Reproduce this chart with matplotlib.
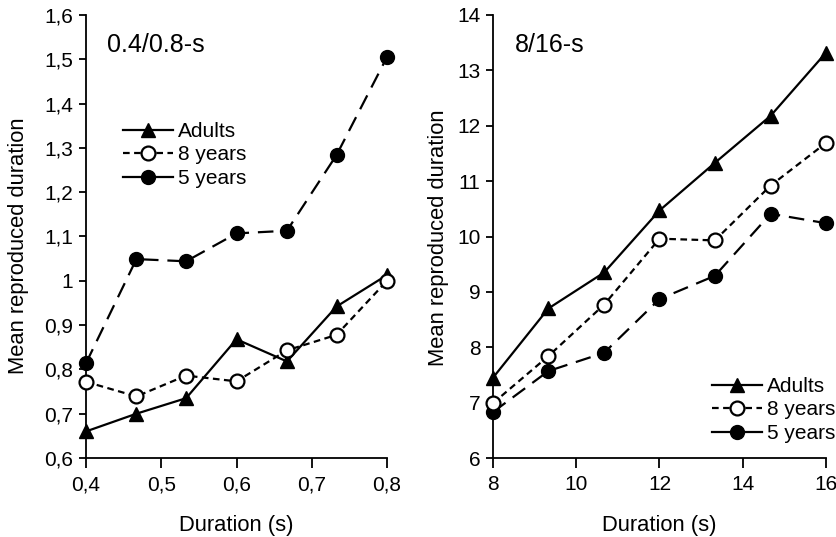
import matplotlib
matplotlib.use("Agg")
import matplotlib.pyplot as plt
from matplotlib.lines import Line2D
from matplotlib.ticker import FuncFormatter

plt.rcParams['font.family'] = ['Liberation Sans', 'DejaVu Sans']

# Left panel (0.4/0.8-s)
x_short = [0.4, 0.467, 0.533, 0.6, 0.667, 0.733, 0.8]
adults_short = [0.66, 0.70, 0.735, 0.868, 0.818, 0.942, 1.013]
y8_short = [0.772, 0.739, 0.786, 0.773, 0.843, 0.878, 1.0]
y5_short = [0.814, 1.049, 1.044, 1.107, 1.113, 1.284, 1.505]

# Right panel (8/16-s)
x_long = [8, 9.33, 10.67, 12, 13.33, 14.67, 16]
adults_long = [7.45, 8.70, 9.35, 10.47, 11.33, 12.18, 13.32]
y8_long = [6.99, 7.84, 8.77, 9.96, 9.93, 10.92, 11.69]
y5_long = [6.83, 7.57, 7.90, 8.87, 9.29, 10.41, 10.24]

series_labels = ["Adults", "8 years", "5 years"]
xticks_short = [0.4, 0.5, 0.6, 0.7, 0.8]
yticks_short = [0.6, 0.7, 0.8, 0.9, 1.0, 1.1, 1.2, 1.3, 1.4, 1.5, 1.6]
xticks_long = [8, 10, 12, 14, 16]
yticks_long = [6, 7, 8, 9, 10, 11, 12, 13, 14]

W, H = 837, 537
top, bot = 15, 458
fig = plt.figure(figsize=(W/100, H/100), dpi=100)
ax1 = fig.add_axes([86/W, 1-bot/H, (387-86)/W, (bot-top)/H])
ax2 = fig.add_axes([493/W, 1-bot/H, (826-493)/W, (bot-top)/H])

fmt = FuncFormatter(lambda v, p: f"{v:g}".replace('.', ','))

ms = 10
lw = 1.6
fs = 15.8

def draw(ax, x, a, e, f):
    ax.plot(x, a, '-', color='black', lw=lw, marker='^', ms=ms, mfc='black', mec='black', clip_on=False, zorder=3)
    ax.plot(x, e, color='black', lw=lw, ls=(0, (3, 2)), marker='o', ms=ms, mfc='white', mec='black', mew=1.6, clip_on=False, zorder=4)
    ax.plot(x, f, color='black', lw=lw, ls=(0, (7, 4)), marker='o', ms=ms, mfc='black', mec='black', clip_on=False, zorder=3)
    for s in ['top', 'right']:
        ax.spines[s].set_visible(False)
    for s in ['left', 'bottom']:
        ax.spines[s].set_linewidth(1.3)
    ax.tick_params(axis='both', direction='out', width=1.3, labelsize=15, colors='black')
    ax.tick_params(axis='x', length=7, pad=5.4)
    ax.tick_params(axis='y', length=5, pad=4)
    ax.xaxis.set_major_formatter(fmt)
    ax.yaxis.set_major_formatter(fmt)
    ax.set_ylabel("Mean reproduced duration", fontsize=fs)
    ax.set_xlabel("Duration (s)", fontsize=fs)

def fx(ax, px):
    l = ax.get_position().x0 * W
    w = ax.get_position().width * W
    return (px - l) / w

def fy(py):
    return (bot - py) / (bot - top)

draw(ax1, x_short, adults_short, y8_short, y5_short)
ax1.set_xlim(0.4, 0.8)
ax1.set_ylim(0.6, 1.6)
ax1.set_xticks(xticks_short)
ax1.set_yticks(yticks_short)
ax1.text(fx(ax1, 107), fy(45), "0.4/0.8-s", transform=ax1.transAxes, fontsize=18, va='center')
ax1.xaxis.set_label_coords(0.5, fy(515))
ax1.yaxis.set_label_coords(fx(ax1, 29), fy(246))

draw(ax2, x_long, adults_long, y8_long, y5_long)
ax2.set_xlim(8, 16)
ax2.set_ylim(6, 14)
ax2.set_xticks(xticks_long)
ax2.set_yticks(yticks_long)
ax2.text(fx(ax2, 515), fy(45), "8/16-s", transform=ax2.transAxes, fontsize=18, va='center')
ax2.xaxis.set_label_coords(0.5, fy(515))
ax2.yaxis.set_label_coords(fx(ax2, 449), fy(238))

handles = [
    Line2D([], [], color='black', lw=lw, marker='^', ms=ms, mfc='black'),
    Line2D([], [], color='black', lw=lw, ls=(0, (3, 2)), marker='o', ms=ms, mfc='white', mew=1.6),
    Line2D([], [], color='black', lw=lw, marker='o', ms=ms, mfc='black'),
]
leg_kw = dict(frameon=False, fontsize=15, handlelength=2.4, handletextpad=0.25,
              labelspacing=0.22, borderaxespad=0, borderpad=0)
fig.legend(handles, series_labels, loc='center left', bbox_to_anchor=(123/W, 1-155/H), **leg_kw)
fig.legend(handles, series_labels, loc='center left', bbox_to_anchor=(712/W, 1-410/H), **leg_kw)

fig.savefig("out.png", dpi=100)
